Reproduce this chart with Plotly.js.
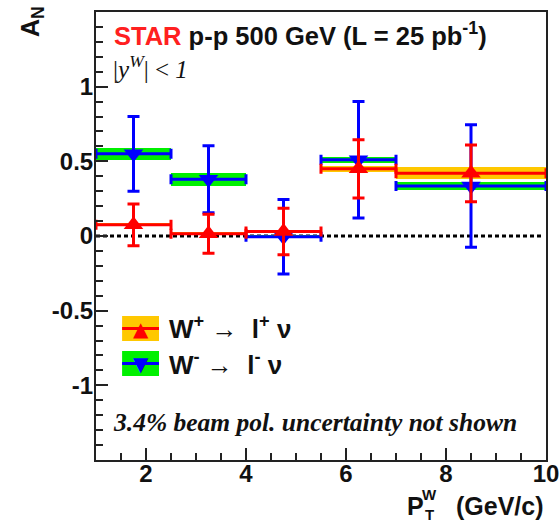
<!DOCTYPE html>
<html>
<head>
<meta charset="utf-8">
<script src="https://cdn.plot.ly/plotly-3.0.1.min.js"></script>
<style>html,body{margin:0;padding:0;background:#fff;}#plot{width:559px;height:525px;}</style>
</head>
<body>
<div id="plot"></div>
<script>
// ---- data ----
const binLo = [1.0, 2.5, 4.0, 5.5, 7.0];
const binHi = [2.5, 4.0, 5.5, 7.0, 10.0];
// W+ -> l+ nu  (red, triangle up)
const wpVal  = [0.075, 0.015, 0.03, 0.45, 0.42];
const wpStat = [0.14, 0.13, 0.155, 0.195, 0.19];
const wpSys  = [0.01, 0.01, 0.01, 0.02, 0.04];
// W- -> l- nu  (blue, triangle down)
const wmVal  = [0.55, 0.38, -0.005, 0.51, 0.335];
const wmStat = [0.25, 0.225, 0.25, 0.39, 0.41];
const wmSys  = [0.04, 0.045, 0.01, 0.02, 0.025];
const xTickVals = [2, 4, 6, 8, 10];
const xTickText = ['2', '4', '6', '8', '10'];
const yTickVals = [-1, -0.5, 0, 0.5, 1];
const yTickText = ['-1', '-0.5', '0', '0.5', '1'];

// ---- derived ----
const xc = binLo.map((l, i) => (l + binHi[i]) / 2);
const xw = binLo.map((l, i) => binHi[i] - l);
const xhalf = xw.map(w => w / 2);

const RED = '#ff0000', BLUE = '#0000ff', YEL = '#ffc800', GRN = '#00f000';

function band(vals, sys, color) {
  return {
    type: 'bar', x: xc, width: xw,
    base: vals.map((v, i) => v - sys[i]),
    y: sys.map(s => 2 * s),
    marker: {color: color, line: {width: 0}},
    hoverinfo: 'skip', showlegend: false
  };
}
function pts(vals, stat, color, sym) {
  return {
    type: 'scatter', mode: 'markers', x: xc, y: vals,
    marker: {symbol: sym, size: 17, color: color},
    error_y: {type: 'data', array: stat, visible: true, color: color, thickness: 3, width: 6},
    error_x: {type: 'data', array: xhalf, visible: true, color: color, thickness: 3, width: 5},
    hoverinfo: 'skip', showlegend: false, cliponaxis: false
  };
}

const traces = [
  band(wmVal, wmSys, GRN),
  band(wpVal, wpSys, YEL),
  pts(wmVal, wmStat, BLUE, 'triangle-down'),
  pts(wpVal, wpStat, RED, 'triangle-up')
];

const SANS = 'Liberation Sans, Arial, Helvetica, sans-serif';
const SERIF = 'Liberation Serif, Times New Roman, serif';
const tickFont = {family: SANS, size: 24, color: '#111', weight: 'bold'};

const layout = {
  width: 559, height: 525,
  margin: {l: 96, r: 13, t: 12, b: 65},
  paper_bgcolor: '#fff', plot_bgcolor: '#fff',
  barmode: 'overlay', bargap: 0,
  showlegend: false,
  xaxis: {
    range: [1, 10], tickmode: 'array', tickvals: xTickVals, ticktext: xTickText,
    ticks: 'inside', ticklen: 12, tickwidth: 2, tickcolor: '#222',
    minor: {tickmode: 'linear', tick0: 0, dtick: 0.5, ticks: 'inside', ticklen: 7, tickwidth: 2, tickcolor: '#222'},
    showline: true, linecolor: '#222', linewidth: 2, mirror: true,
    showgrid: false, zeroline: false, tickfont: tickFont, ticklabelstandoff: -9,
    ticklabeloverflow: 'allow'
  },
  yaxis: {
    range: [-1.5, 1.5], tickmode: 'array', tickvals: yTickVals, ticktext: yTickText,
    ticks: 'inside', ticklen: 12, tickwidth: 2, tickcolor: '#222',
    minor: {tickmode: 'linear', tick0: 0, dtick: 0.1, ticks: 'inside', ticklen: 7, tickwidth: 2, tickcolor: '#222'},
    showline: true, linecolor: '#222', linewidth: 2, mirror: true,
    showgrid: false, zeroline: false, tickfont: tickFont, ticklabelstandoff: -4,
    ticklabeloverflow: 'allow'
  },
  shapes: [
    {type: 'line', xref: 'x', yref: 'y', x0: 1, x1: 9.9, y0: 0, y1: 0,
     line: {color: '#000', width: 3, dash: '4px,3px'}, layer: 'below'},
    // legend boxes
    {type: 'rect', xref: 'paper', yref: 'paper', x0: 0.058, x1: 0.140, y0: 0.2656, y1: 0.3214,
     fillcolor: YEL, line: {width: 0}},
    {type: 'line', xref: 'paper', yref: 'paper', x0: 0.058, x1: 0.140, y0: 0.2935, y1: 0.2935,
     line: {color: RED, width: 3}},
    {type: 'rect', xref: 'paper', yref: 'paper', x0: 0.058, x1: 0.140, y0: 0.1875, y1: 0.2433,
     fillcolor: GRN, line: {width: 0}},
    {type: 'line', xref: 'paper', yref: 'paper', x0: 0.058, x1: 0.140, y0: 0.2154, y1: 0.2154,
     line: {color: BLUE, width: 3}}
  ],
  annotations: [
    {xref: 'paper', yref: 'paper', x: 0.036, y: 0.952, xanchor: 'left', yanchor: 'middle', showarrow: false,
     text: '<span style="color:#ff2020">STAR</span> p-p 500 GeV (L = 25 pb<sup>-1</sup>)',
     font: {family: SANS, size: 25.5, color: '#111', weight: 'bold'}},
    {xref: 'paper', yref: 'paper', x: 0.034, y: 0.877, xanchor: 'left', yanchor: 'middle', showarrow: false,
     text: '|<i>y</i><sup><i>W</i></sup>| &lt; <i>1</i>',
     font: {family: SERIF, size: 25, color: '#111'}},
    // legend symbols
    {xref: 'paper', yref: 'paper', x: 0.099, y: 0.2935, xanchor: 'center', yanchor: 'middle', showarrow: false,
     text: '▲', font: {family: 'DejaVu Sans', size: 20, color: RED}},
    {xref: 'paper', yref: 'paper', x: 0.099, y: 0.2154, xanchor: 'center', yanchor: 'middle', showarrow: false,
     text: '▼', font: {family: 'DejaVu Sans', size: 20, color: BLUE}},
    {xref: 'paper', yref: 'paper', x: 0.158, y: 0.295, xanchor: 'left', yanchor: 'middle', showarrow: false,
     text: 'W<sup>+</sup>&nbsp;→&nbsp;&nbsp;l<sup>+</sup>&nbsp;ν', font: {family: SANS, size: 26, color: '#111', weight: 'bold'}},
    {xref: 'paper', yref: 'paper', x: 0.158, y: 0.2165, xanchor: 'left', yanchor: 'middle', showarrow: false,
     text: 'W<sup>-</sup>&nbsp;→&nbsp;&nbsp;l<sup>-</sup>&nbsp;ν', font: {family: SANS, size: 26, color: '#111', weight: 'bold'}},
    // note
    {xref: 'paper', yref: 'paper', x: 0.034, y: 0.0826, xanchor: 'left', yanchor: 'middle', showarrow: false,
     text: '<b><i>3.4% beam pol. uncertainty not shown</i></b>',
     font: {family: SERIF, size: 25.5, color: '#111'}},
    // x title
    {xref: 'paper', yref: 'paper', x: 0.6867, y: -0.1027, xanchor: 'left', yanchor: 'middle', showarrow: false,
     text: 'P', font: {family: SANS, size: 25, color: '#111', weight: 'bold'}},
    {xref: 'paper', yref: 'paper', x: 0.74, y: -0.078, xanchor: 'center', yanchor: 'middle', showarrow: false,
     text: 'W', font: {family: SANS, size: 15, color: '#111', weight: 'bold'}},
    {xref: 'paper', yref: 'paper', x: 0.74, y: -0.145, xanchor: 'center', yanchor: 'bottom', showarrow: false,
     text: 'T', font: {family: SANS, size: 15, color: '#111', weight: 'bold'}},
    {xref: 'paper', yref: 'paper', x: 1.0, y: -0.1027, xanchor: 'right', yanchor: 'middle', showarrow: false,
     text: '(GeV/c)', font: {family: SANS, size: 25, color: '#111', weight: 'bold'}},
    // y title
    {xref: 'paper', yref: 'paper', x: -0.142, y: 0.978, xanchor: 'center', yanchor: 'middle', showarrow: false,
     textangle: -90, text: 'A<sub>N</sub>', font: {family: SANS, size: 25, color: '#111', weight: 'bold'}}
  ]
};

Plotly.newPlot('plot', traces, layout, {staticPlot: true, displayModeBar: false});
</script>
</body>
</html>
